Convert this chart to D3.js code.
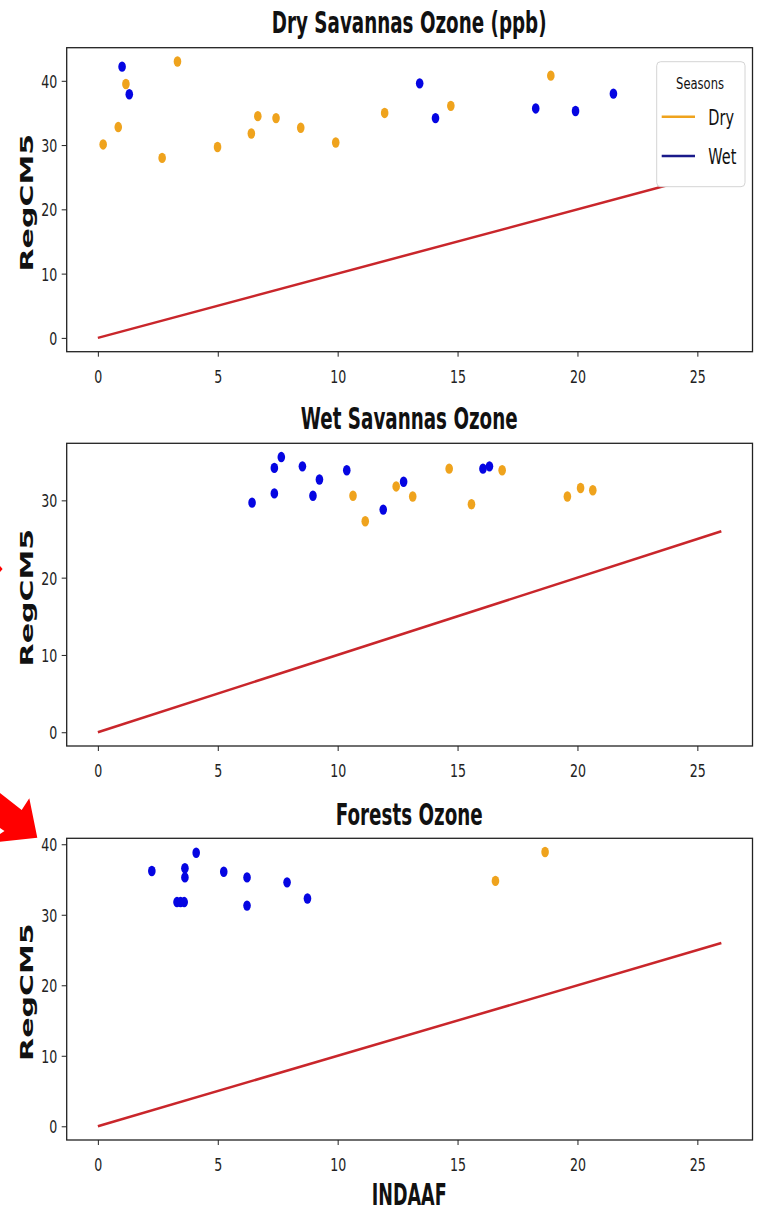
<!DOCTYPE html>
<html><head><meta charset="utf-8">
<script src="https://cdn.jsdelivr.net/npm/d3@7"></script>
<style>html,body{margin:0;padding:0;background:#fff;}svg{display:block;}</style>
</head><body>
<svg id="chart" width="757" height="1211"></svg>
<script>
// ---------- data ----------
const panelTitles = ["Dry Savannas Ozone (ppb)", "Wet Savannas Ozone", "Forests Ozone"];
const seasons = ["Dry", "Wet"];
const xTickValues = [0, 5, 10, 15, 20, 25];
const yTickValues = [[0, 10, 20, 30, 40], [0, 10, 20, 30], [0, 10, 20, 30, 40]];
const oneToOneLine = [0, 26];   // 1:1 reference line from 0 to 26

// Dry savannas
const drySavDryX = [0.22, 0.85, 1.17, 2.68, 3.32, 4.99, 6.40, 6.67, 7.43, 8.46, 9.92, 11.96, 14.72, 18.89];
const drySavDryY = [30.1, 32.8, 39.5, 28.0, 43.0, 29.7, 31.8, 34.5, 34.2, 32.7, 30.4, 35.0, 36.1, 40.8];
const drySavWetX = [1.01, 1.31, 13.42, 14.08, 18.26, 19.92, 21.5];
const drySavWetY = [42.2, 37.9, 39.6, 34.2, 35.7, 35.3, 38.0];
// Wet savannas
const wetSavDryX = [10.64, 11.15, 12.44, 13.13, 14.65, 15.58, 16.86, 19.58, 20.13, 20.64];
const wetSavDryY = [30.6, 27.3, 31.8, 30.5, 34.1, 29.5, 33.9, 30.5, 31.6, 31.3];
const wetSavWetX = [6.43, 7.36, 7.36, 7.65, 8.53, 8.97, 9.24, 10.38, 11.9, 12.75, 16.06, 16.33];
const wetSavWetY = [29.7, 30.9, 34.2, 35.6, 34.4, 30.6, 32.7, 33.9, 28.8, 32.4, 34.1, 34.4];
// Forests
const forestDryX = [16.58, 18.65];
const forestDryY = [34.8, 38.9];
const forestWetX = [2.25, 3.3, 3.45, 3.6, 3.63, 3.63, 4.10, 5.25, 6.22, 6.22, 7.89, 8.74];
const forestWetY = [36.2, 31.8, 31.8, 31.8, 36.6, 35.3, 38.8, 36.1, 35.3, 31.3, 34.6, 32.3];

// ---------- styles ----------
const ORANGE = "#efa31d", BLUE = "#0505e2", NAVY = "#1a1a8a", RED = "#c9262b";
const FONT = "DejaVu Sans";

const svg = d3.select("#chart");

const panels = [
  {dryX: drySavDryX, dryY: drySavDryY, wetX: drySavWetX, wetY: drySavWetY, top: 47.7, bottom: 351.7, titleY: 33.3},
  {dryX: wetSavDryX, dryY: wetSavDryY, wetX: wetSavWetX, wetY: wetSavWetY, top: 443.3, bottom: 746, titleY: 429.3},
  {dryX: forestDryX, dryY: forestDryY, wetX: forestWetX, wetY: forestWetY, top: 838.3, bottom: 1140, titleY: 825}
];
const left = 66.7, right = 752.5;

function sText(g, x, y, str, size, opts) {
  opts = opts || {};
  const sx = opts.sx || 0.62;
  let tr = `translate(${x},${y}) scale(${sx},1)`;
  if (opts.rotate) tr += ` rotate(${opts.rotate})`;
  return g.append("text").attr("transform", tr)
    .attr("font-family", FONT).attr("font-size", size)
    .attr("font-weight", opts.weight || "normal")
    .attr("text-anchor", opts.anchor || "middle")
    .attr("fill", opts.fill || "#111")
    .text(str);
}

panels.forEach((p, i) => {
  const allX = p.dryX.concat(p.wetX, oneToOneLine);
  const allY = p.dryY.concat(p.wetY, oneToOneLine);
  const [x0, x1] = d3.extent(allX), [y0, y1] = d3.extent(allY);
  const xm = (x1 - x0) * 0.05, ym = (y1 - y0) * 0.05;
  const x = d3.scaleLinear().domain([x0 - xm, x1 + xm]).range([left, right]);
  const y = d3.scaleLinear().domain([y0 - ym, y1 + ym]).range([p.bottom, p.top]);
  const g = svg.append("g");

  // 1:1 line
  g.append("path")
    .attr("d", d3.line().x(d => x(d)).y(d => y(d))(oneToOneLine))
    .attr("stroke", RED).attr("stroke-width", 2.5).attr("fill", "none");

  // points
  const pts = [];
  p.dryX.forEach((v, k) => pts.push({x: v, y: p.dryY[k], c: ORANGE}));
  p.wetX.forEach((v, k) => pts.push({x: v, y: p.wetY[k], c: BLUE}));
  g.selectAll("ellipse.pt").data(pts).enter().append("ellipse")
    .attr("class", "pt")
    .attr("cx", d => x(d.x)).attr("cy", d => y(d.y))
    .attr("rx", 3.8).attr("ry", 5.2).attr("fill", d => d.c);

  // axes
  const xa = g.append("g").attr("transform", `translate(0,${p.bottom})`)
    .call(d3.axisBottom(x).tickValues(xTickValues).tickSize(5).tickFormat(d3.format("d")));
  xa.select(".domain").remove();
  xa.selectAll(".tick line").attr("stroke", "#222").attr("stroke-width", 1);
  xa.selectAll(".tick text").attr("y", 31.5).attr("dy", null)
    .attr("transform", "scale(0.7,1)")
    .attr("font-family", FONT).attr("font-size", 18).attr("fill", "#222");

  const ya = g.append("g").attr("transform", `translate(${left},0)`)
    .call(d3.axisLeft(y).tickValues(yTickValues[i]).tickSize(5).tickFormat(d3.format("d")));
  ya.select(".domain").remove();
  ya.selectAll(".tick line").attr("stroke", "#222").attr("stroke-width", 1);
  ya.selectAll(".tick text").attr("x", -9.4 / 0.7).attr("dy", "0.36em")
    .attr("transform", "scale(0.7,1)")
    .attr("font-family", FONT).attr("font-size", 18).attr("fill", "#222");

  // frame
  g.append("rect").attr("x", left).attr("y", p.top)
    .attr("width", right - left).attr("height", p.bottom - p.top)
    .attr("fill", "none").attr("stroke", "#222").attr("stroke-width", 1.3);

  // title
  sText(g, 409.2, p.titleY, panelTitles[i], 29.7, {weight: "bold", sx: 0.617});
  // y label
  sText(g, 33, (p.top + p.bottom) / 2 + 3, "RegCM5", 30, {weight: "bold", sx: 0.58, rotate: -90});

  // legend on first panel
  if (i === 0) {
    const lg = svg.append("g");
    lg.append("rect").attr("x", 656.7).attr("y", 61.7).attr("width", 88.3).attr("height", 125)
      .attr("rx", 4).attr("fill", "#fff").attr("fill-opacity", 1)
      .attr("stroke", "#d4d4d4").attr("stroke-width", 1);
    sText(lg, 700, 89, "Seasons", 15, {sx: 0.77});
    const cols = [ORANGE, NAVY];
    const ly = [116.7, 156];
    seasons.forEach((s, k) => {
      lg.append("line").attr("x1", 661.7).attr("x2", 695).attr("y1", ly[k]).attr("y2", ly[k])
        .attr("stroke", cols[k]).attr("stroke-width", 2.6);
      sText(lg, 708.3, ly[k] + 7.8, s, 21, {sx: 0.69, anchor: "start"});
    });
  }
});

// x label
sText(svg, 409.2, 1204.5, "INDAAF", 29.7, {weight: "bold", sx: 0.59});

// red annotation arrows (partly outside the picture)
svg.append("path")
  .attr("d", "M0,793 L21.7,810 L29.3,798.3 L37.3,837.7 L0,841.7 L0,834 L4.5,831 L0,828 Z")
  .attr("fill", "#f00");
svg.append("path").attr("d", "M0,566 L2.6,569 L0,572 Z").attr("fill", "#f00");
</script>
</body></html>
